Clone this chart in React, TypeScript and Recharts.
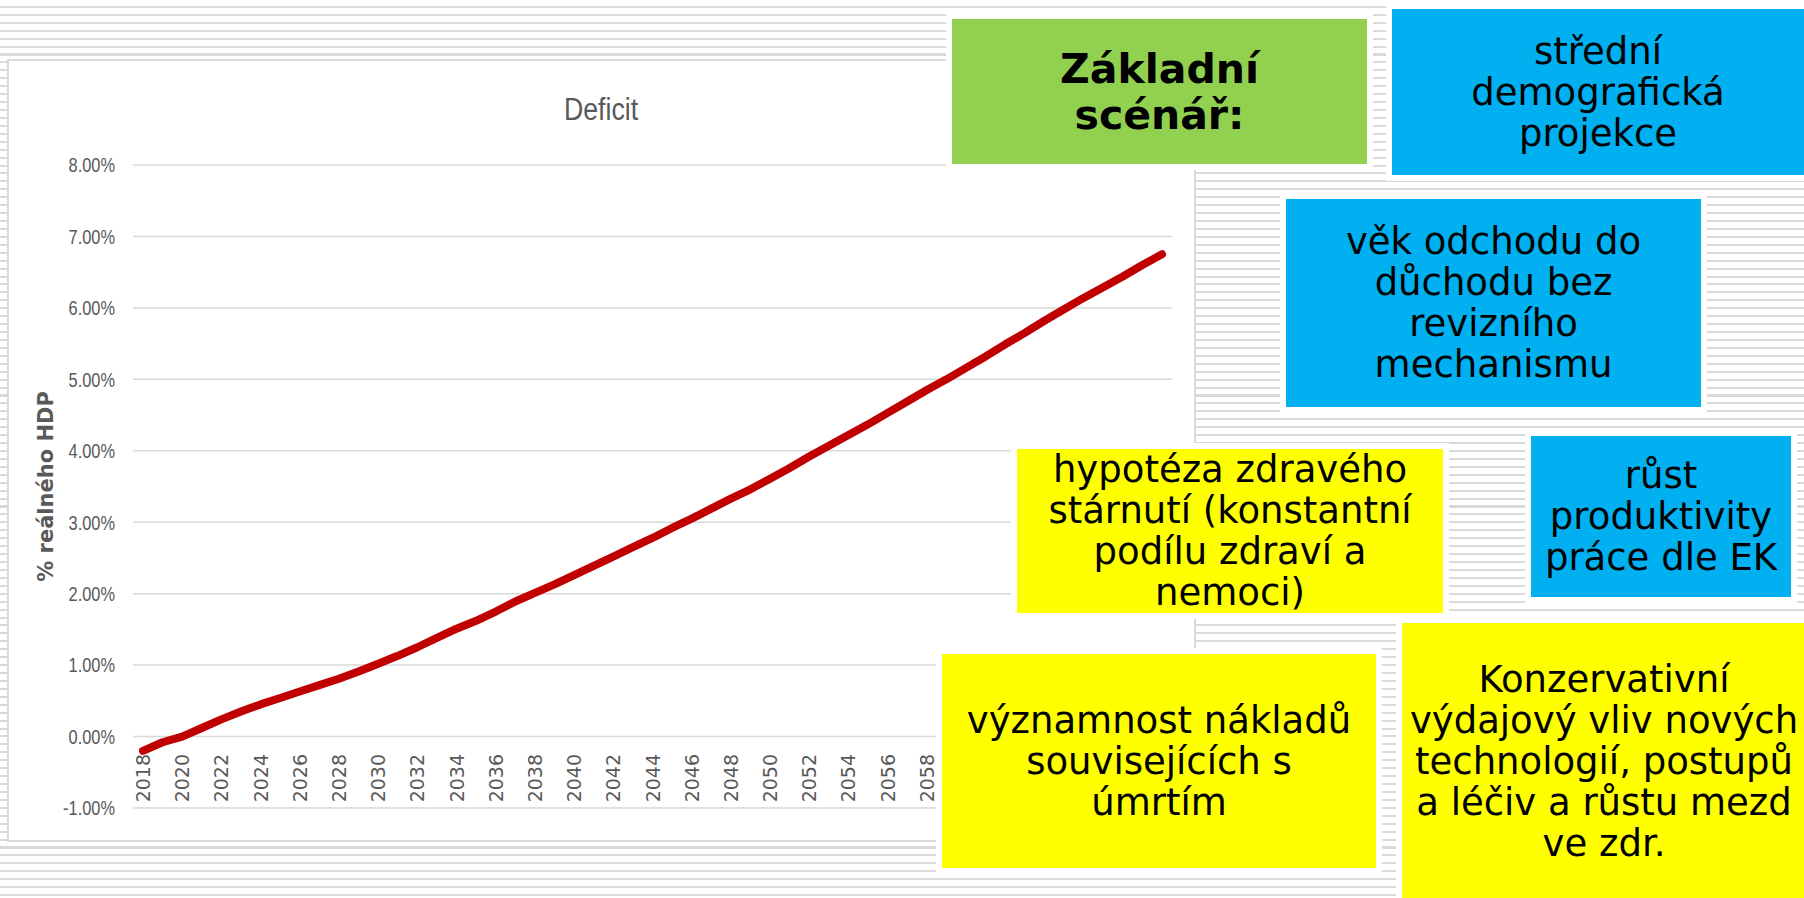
import { LineChart, Line, XAxis, YAxis, CartesianGrid } from 'recharts';

const years = [
  2018, 2019, 2020, 2021, 2022, 2023, 2024, 2025, 2026, 2027, 2028, 2029, 2030, 2031, 2032, 2033, 2034, 2035,
  2036, 2037, 2038, 2039, 2040, 2041, 2042, 2043, 2044, 2045, 2046, 2047, 2048, 2049, 2050, 2051, 2052, 2053,
  2054, 2055, 2056, 2057, 2058, 2059, 2060, 2061, 2062, 2063, 2064, 2065, 2066, 2067, 2068, 2069, 2070,
];

// deficit, % of real GDP
const deficit = [
  -0.2, -0.08, 0.0, 0.12, 0.24, 0.35, 0.45, 0.54, 0.63, 0.72, 0.81, 0.91, 1.02, 1.13, 1.25, 1.38, 1.51, 1.62,
  1.75, 1.89, 2.01, 2.13, 2.26, 2.39, 2.52, 2.65, 2.78, 2.92, 3.05, 3.19, 3.33, 3.46, 3.61, 3.76, 3.92, 4.07,
  4.22, 4.37, 4.53, 4.69, 4.85, 5.0, 5.16, 5.32, 5.49, 5.65, 5.82, 5.98, 6.14, 6.29, 6.44, 6.6, 6.75,
];

const yTicks = [-1, 0, 1, 2, 3, 4, 5, 6, 7, 8];

const baseScenario = ['Základní', 'scénář:'];
const demography = ['střední', 'demografická', 'projekce'];
const retirement = ['věk odchodu do', 'důchodu bez', 'revizního', 'mechanismu'];
const healthyAgeing = ['hypotéza zdravého', 'stárnutí (konstantní', 'podílu zdraví a', 'nemoci)'];
const productivity = ['růst', 'produktivity', 'práce dle EK'];
const deathCosts = ['významnost nákladů', 'souvisejících s', 'úmrtím'];
const technology = ['Konzervativní', 'výdajový vliv nových', 'technologií, postupů', 'a léčiv a růstu mezd', 've zdr.'];

const data = years.map((year, i) => ({ year, deficit: deficit[i] }));

const GREY = '#595959';

function YearTick({ x, y, payload }: any) {
  return (
    <text
      transform={`translate(${x},${y - 54}) rotate(-90)`}
      textAnchor="end"
      dominantBaseline="central"
      fontFamily="DejaVu Sans"
      fontSize={19}
      fill={GREY}
    >
      {payload.value}
    </text>
  );
}

// narrow look of the original (Calibri-like), squeezed horizontally
function PctTick({ x, y, payload }: any) {
  return (
    <text
      transform={`translate(${x},${y}) scale(0.8,1)`}
      textAnchor="end"
      dy="0.36em"
      fontFamily="Liberation Sans"
      fontSize={20.5}
      fill={GREY}
    >
      {`${Number(payload.value).toFixed(2)}%`}
    </text>
  );
}

function YLabel({ viewBox }: any) {
  const vx = viewBox ? viewBox.x : 0;
  const cy = viewBox ? viewBox.y + viewBox.height / 2 : 426;
  const cx = vx + 45;
  return (
    <text
      transform={`rotate(-90, ${cx}, ${cy})`}
      x={cx}
      y={cy}
      textAnchor="middle"
      fontFamily="DejaVu Sans"
      fontWeight="bold"
      fontSize={21}
      fill={GREY}
    >
      % reálného HDP
    </text>
  );
}

function Note({ left, top, width, height, color, lines, bold = false, fontSize = 37, lineHeight = 41 }: any) {
  return (
    <div
      style={{
        position: 'absolute',
        left,
        top,
        width,
        height,
        background: color,
        boxShadow: '0 0 0 6px #fff',
        display: 'flex',
        flexDirection: 'column',
        justifyContent: 'center',
        alignItems: 'center',
        fontFamily: '"DejaVu Sans", sans-serif',
        fontWeight: bold ? 700 : 400,
        fontSize,
        lineHeight: `${lineHeight}px`,
        color: '#000',
        textAlign: 'center',
        whiteSpace: 'nowrap',
      }}
    >
      {lines.map((l: string) => (
        <div key={l}>{l}</div>
      ))}
    </div>
  );
}

export default function App() {
  return (
    <div
      style={{
        position: 'absolute',
        left: 0,
        top: 0,
        width: 1804,
        height: 898,
        overflow: 'hidden',
        backgroundColor: '#fff',
        backgroundImage:
          'repeating-linear-gradient(to bottom, transparent 0px, transparent 5.9px, #d9d9d9 5.9px, #d9d9d9 7.93px)',
      }}
    >
      <div
        style={{
          position: 'absolute',
          left: 7,
          top: 59,
          width: 1189,
          height: 783,
          boxSizing: 'border-box',
          border: '2px solid #d9d9d9',
          background: '#fff',
        }}
      />
      <div
        style={{
          position: 'absolute',
          left: 8,
          top: 94,
          width: 1187,
          textAlign: 'center',
          fontFamily: '"Liberation Sans", sans-serif',
          fontSize: 31,
          lineHeight: '31px',
          color: GREY,
        }}
      >
        <span style={{ display: 'inline-block', transform: 'scaleX(0.86)' }}>Deficit</span>
      </div>
      <div style={{ position: 'absolute', left: 8, top: 60 }}>
        <LineChart width={1187} height={782} data={data} margin={{ top: 105, right: 23, bottom: 0, left: 0 }}>
          <CartesianGrid vertical={false} stroke="#d9d9d9" strokeWidth={1.5} />
          <XAxis
            dataKey="year"
            height={34}
            interval={1}
            axisLine={false}
            tickLine={false}
            tickSize={0}
            tickMargin={0}
            padding={{ left: 10, right: 10 }}
            tick={<YearTick />}
          />
          <YAxis
            width={125}
            domain={[-1, 8]}
            ticks={yTicks}
            axisLine={false}
            tickLine={false}
            tickSize={0}
            tickMargin={18}
            tick={<PctTick />}
            label={<YLabel />}
          />
          <Line
            type="linear"
            dataKey="deficit"
            stroke="#c00000"
            strokeWidth={8}
            strokeLinecap="round"
            strokeLinejoin="round"
            dot={false}
            activeDot={false}
            isAnimationActive={false}
          />
        </LineChart>
      </div>

      <Note left={952} top={19} width={415} height={145} color="#92d050" lines={baseScenario} bold fontSize={41} lineHeight={46} />
      <Note left={1392} top={9} width={412} height={166} color="#00b0f0" lines={demography} />
      <Note left={1286} top={199} width={415} height={208} color="#00b0f0" lines={retirement} />
      <Note left={1017} top={449} width={426} height={164} color="#ffff00" lines={healthyAgeing} />
      <Note left={1531} top={436} width={260} height={161} color="#00b0f0" lines={productivity} />
      <Note left={942} top={654} width={434} height={214} color="#ffff00" lines={deathCosts} />
      <Note left={1402} top={623} width={404} height={277} color="#ffff00" lines={technology} />
    </div>
  );
}
